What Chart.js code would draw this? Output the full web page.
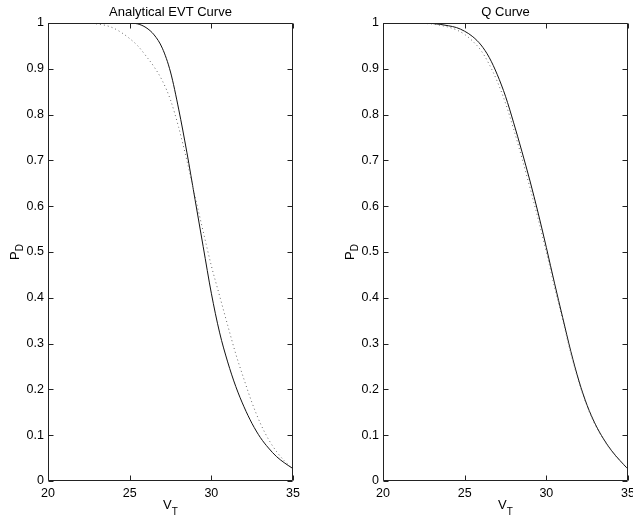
<!DOCTYPE html>
<html>
<head>
<meta charset="utf-8">
<script src="https://cdn.jsdelivr.net/npm/chart.js@4.4.1/dist/chart.umd.min.js"></script>
<style>
  body { margin: 0; background: #fff; }
  #wrap { position: relative; width: 633px; height: 518px; overflow: hidden; }
  canvas { position: absolute; top: 0; }
</style>
</head>
<body>
<div id="wrap">
  <canvas id="evt" width="316" height="518" style="left:0"></canvas>
  <canvas id="qcurve" width="317" height="518" style="left:316px"></canvas>
</div>
<script>
// threshold values V_T
var vT = [20, 20.5, 21, 21.5, 22, 22.5, 23, 23.5, 24, 24.5, 25, 25.5, 26, 26.5, 27, 27.5,
          28, 28.5, 29, 29.5, 30, 30.5, 31, 31.5, 32, 32.5, 33, 33.5, 34, 34.5, 35];

// left panel : Analytical EVT Curve
var evtSolid  = [1, 1, 1, 1, 1, 1, 1, 1, 1, 1, 1, 0.998, 0.99, 0.974, 0.945, 0.893,
                 0.812, 0.718, 0.615, 0.512, 0.41, 0.325, 0.26, 0.206, 0.162, 0.125, 0.095, 0.072, 0.053, 0.039, 0.027];
var evtDotted = [1, 1, 1, 1, 1, 1, 0.998, 0.995, 0.989, 0.979, 0.966, 0.95, 0.928, 0.904, 0.874, 0.832,
                 0.772, 0.70, 0.622, 0.545, 0.47, 0.405, 0.34, 0.277, 0.222, 0.17, 0.126, 0.091, 0.064, 0.043, 0.027];

// right panel : Q Curve
var qSolid  = [1, 1, 1, 1, 1, 1, 0.999, 0.997, 0.994, 0.99, 0.982, 0.97, 0.952, 0.925, 0.887, 0.84,
               0.782, 0.72, 0.655, 0.585, 0.51, 0.432, 0.357, 0.283, 0.218, 0.165, 0.124, 0.092, 0.066, 0.045, 0.026];
var qDotted = [1, 1, 1, 1, 1, 0.999, 0.998, 0.995, 0.991, 0.985, 0.975, 0.96, 0.94, 0.91, 0.872, 0.825,
               0.768, 0.706, 0.64, 0.572, 0.5, 0.424, 0.352, 0.279, 0.215, 0.163, 0.122, 0.091, 0.065, 0.044, 0.026];

var xTickLabels = ['20', '25', '30', '35'];
var yTickLabels = ['0', '0.1', '0.2', '0.3', '0.4', '0.5', '0.6', '0.7', '0.8', '0.9', '1'];

var FONT = '"Liberation Sans", Arial, Helvetica, sans-serif';

function pts(ys) {
    return vT.map(function (x, i) { return { x: x, y: ys[i] }; });
}

// matlab style box, inward ticks, title and axis labels
var matlabBox = {
    id: 'matlabBox',
    afterDraw: function (chart, args, opts) {
        var ctx = chart.ctx, a = chart.chartArea;
        var xs = chart.scales.x, ys = chart.scales.y;
        var L = Math.round(a.left) + 0.5, R = Math.round(a.right) - 0.5;
        var T = Math.round(a.top) + 0.5, B = Math.round(a.bottom) - 0.5;
        ctx.save();
        ctx.strokeStyle = '#222';
        ctx.lineWidth = 1;
        ctx.beginPath();
        ctx.rect(L, T, R - L, B - T);
        xs.ticks.forEach(function (t) {
            var p = Math.round(xs.getPixelForValue(t.value)) + 0.5;
            ctx.moveTo(p, B); ctx.lineTo(p, B - 5);
            ctx.moveTo(p, T); ctx.lineTo(p, T + 5);
        });
        ys.ticks.forEach(function (t) {
            var p = Math.round(ys.getPixelForValue(t.value)) + 0.5;
            ctx.moveTo(L, p); ctx.lineTo(L + 5, p);
            ctx.moveTo(R, p); ctx.lineTo(R - 5, p);
        });
        ctx.stroke();

        ctx.fillStyle = '#000';
        var cx = (a.left + a.right) / 2;
        // title
        ctx.font = '13px ' + FONT;
        ctx.textAlign = 'center';
        ctx.textBaseline = 'alphabetic';
        ctx.fillText(opts.title, cx, a.top - 7);

        // V_T
        ctx.textAlign = 'left';
        ctx.font = '13px ' + FONT;
        var wV = ctx.measureText('V').width;
        ctx.font = '10px ' + FONT;
        var wT = ctx.measureText('T').width;
        var x0 = cx - (wV + wT) / 2;
        ctx.font = '13px ' + FONT;
        ctx.fillText('V', x0, a.bottom + 28);
        ctx.font = '10px ' + FONT;
        ctx.fillText('T', x0 + wV, a.bottom + 34);

        // P_D rotated
        ctx.translate(a.left - 29, (a.top + a.bottom) / 2);
        ctx.rotate(-Math.PI / 2);
        ctx.font = '13px ' + FONT;
        var wP = ctx.measureText('P').width;
        ctx.font = '10px ' + FONT;
        var wD = ctx.measureText('D').width;
        var y0 = -(wP + wD) / 2;
        ctx.font = '13px ' + FONT;
        ctx.fillText('P', y0, 0);
        ctx.font = '10px ' + FONT;
        ctx.fillText('D', y0 + wP, 4);
        ctx.restore();
    }
};

function makeChart(id, title, solid, dotted, yAxisWidth, rightPad) {
    var ctx = document.getElementById(id).getContext('2d');
    return new Chart(ctx, {
        type: 'line',
        data: {
            datasets: [{
                data: pts(dotted),
                borderColor: '#666',
                borderWidth: 1,
                borderDash: [1, 3],
                pointRadius: 0,
                fill: false,
                cubicInterpolationMode: 'monotone'
            }, {
                data: pts(solid),
                borderColor: '#111',
                borderWidth: 1,
                pointRadius: 0,
                fill: false,
                cubicInterpolationMode: 'monotone'
            }]
        },
        options: {
            responsive: false,
            animation: false,
            devicePixelRatio: 1,
            layout: { padding: { top: 23, right: rightPad, left: 0, bottom: 0 } },
            plugins: {
                legend: { display: false },
                tooltip: { enabled: false },
                matlabBox: { title: title }
            },
            scales: {
                x: {
                    type: 'linear',
                    min: 20, max: 35,
                    grid: { display: false, drawTicks: false },
                    border: { display: false },
                    ticks: {
                        stepSize: 5,
                        padding: 5,
                        color: '#000',
                        maxRotation: 0,
                        autoSkip: false,
                        font: { family: FONT, size: 12.5 },
                        callback: function (v) { return xTickLabels[Math.round((v - 20) / 5)]; }
                    },
                    afterFit: function (s) { s.height = 37; s.paddingLeft = 0; s.paddingRight = 0; }
                },
                y: {
                    min: 0, max: 1,
                    grid: { display: false, drawTicks: false },
                    border: { display: false },
                    ticks: {
                        stepSize: 0.1,
                        padding: 4,
                        color: '#000',
                        autoSkip: false,
                        font: { family: FONT, size: 12.5 },
                        callback: function (v) { return yTickLabels[Math.round(v * 10)]; }
                    },
                    afterFit: function (s) { s.width = yAxisWidth; s.paddingTop = 0; s.paddingBottom = 0; }
                }
            }
        },
        plugins: [matlabBox]
    });
}

makeChart('evt', 'Analytical EVT Curve', evtSolid, evtDotted, 48, 23);
makeChart('qcurve', 'Q Curve', qSolid, qDotted, 67, 5);
</script>
</body>
</html>
